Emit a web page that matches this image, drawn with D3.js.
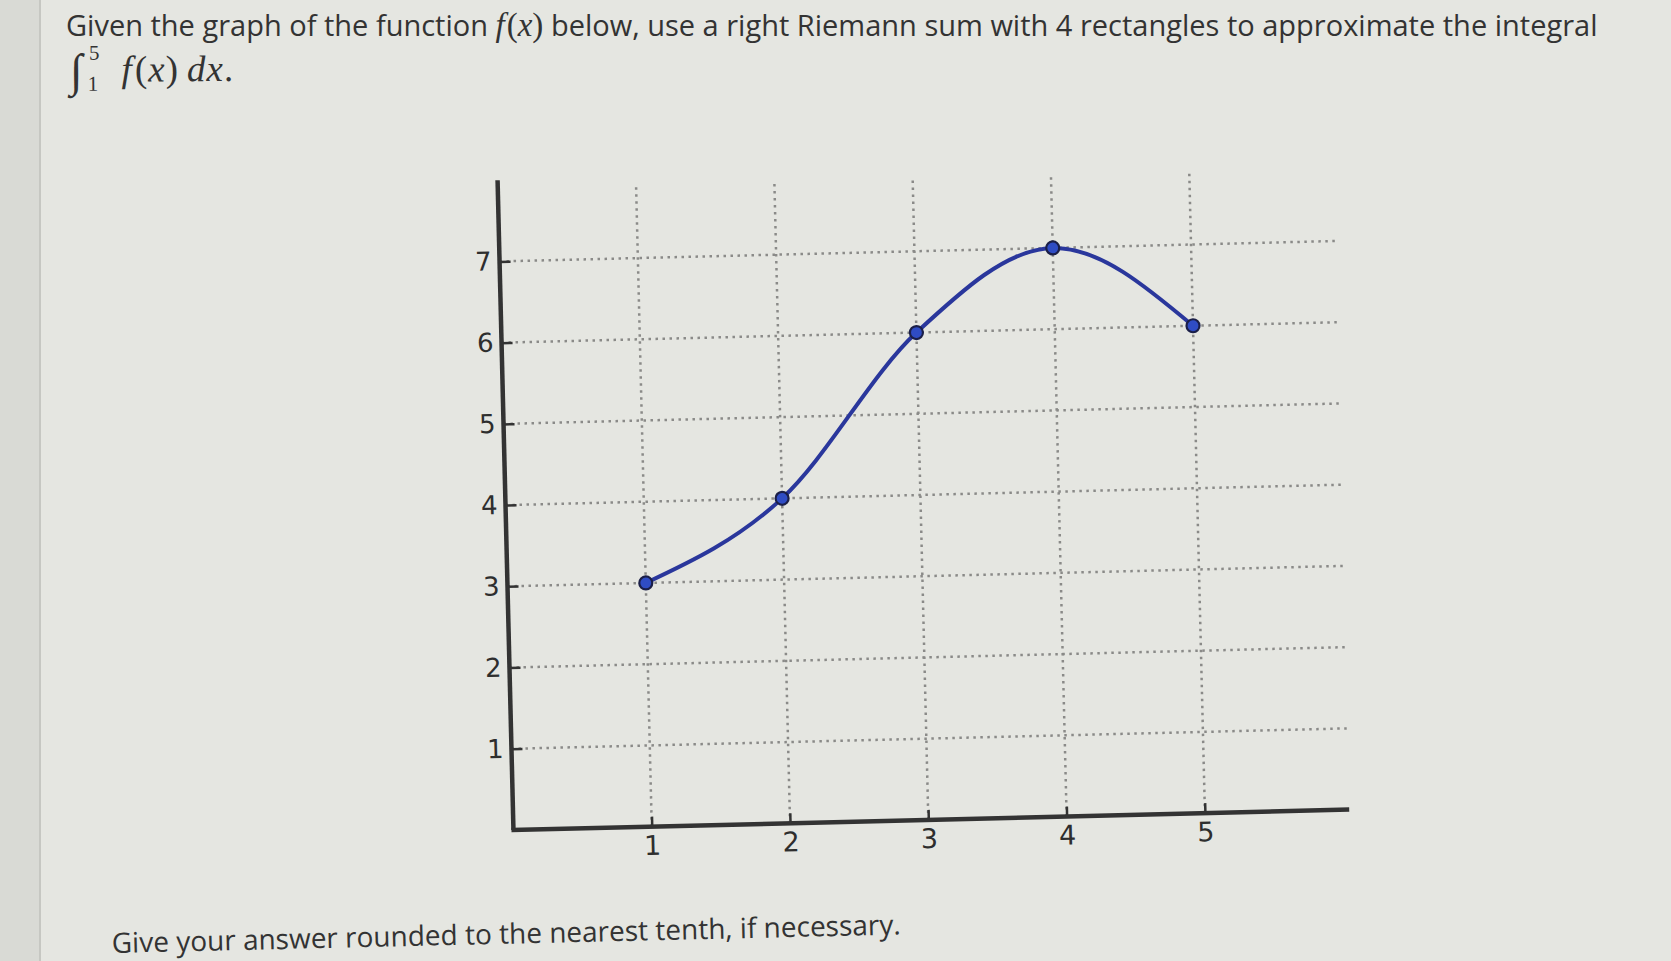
<!DOCTYPE html>
<html>
<head>
<meta charset="utf-8">
<script src="https://cdn.jsdelivr.net/npm/d3@7"></script>
<style>
  html, body { margin: 0; padding: 0; background: #e5e6e1; overflow: hidden; }
  svg { display: block; }
  .tick text { font-family: "DejaVu Sans", sans-serif; fill: #2e2e2e; }
</style>
</head>
<body>
<div id="holder"></div>
<script>
// values
const xVals = [1, 2, 3, 4, 5];
const yVals = [3, 4, 6, 7, 6];
const xTicks = [1, 2, 3, 4, 5];
const yTicks = [1, 2, 3, 4, 5, 6, 7];
const xDomain = [0, 6];
const yDomain = [0, 8];

const w = 1671;
const h = 961;

let svg = d3.select("#holder")
  .append("svg")
  .attr("width", w)
  .attr("height", h);

// page background + left strip of the screen
svg.append("rect").attr("width", w).attr("height", h).attr("fill", "#e5e6e1");
svg.append("rect").attr("width", 40).attr("height", h).attr("fill", "#d9dad5");
svg.append("line").attr("x1", 40).attr("x2", 40).attr("y1", 0).attr("y2", h)
  .attr("stroke", "#c6c7c2").attr("stroke-width", 2);

// question text, line 1
let title = svg.append("text")
  .attr("x", 66)
  .attr("y", 36)
  .style("font-family", "'Open Sans', sans-serif")
  .style("font-size", "29px")
  .style("fill", "#333");
title.append("tspan").text("Given the graph of the function ");
title.append("tspan").style("font-family", "'Liberation Serif', serif").style("font-style", "italic").style("font-size", "33px").text("f");
title.append("tspan").style("font-family", "'Liberation Serif', serif").style("font-size", "33px").attr("dx", 2).text("(");
title.append("tspan").style("font-family", "'Liberation Serif', serif").style("font-style", "italic").style("font-size", "33px").text("x");
title.append("tspan").style("font-family", "'Liberation Serif', serif").style("font-size", "33px").text(")");
title.append("tspan").text(" below, use a right Riemann sum with 4 rectangles to approximate the integral");

// line 2: the integral
let integ = svg.append("text")
  .attr("x", 70)
  .attr("y", 82)
  .attr("transform", "rotate(-0.4, 66, 82)")
  .style("font-family", "'Liberation Serif', serif")
  .style("font-size", "37px")
  .style("fill", "#333");
integ.append("tspan").style("font-size", "46px").attr("dy", 4).text("∫");
integ.append("tspan").style("font-size", "21px").attr("dx", 5).attr("dy", 5).text("1");
integ.append("tspan").style("font-size", "21px").attr("dx", -9).attr("dy", -31).text("5");
integ.append("tspan").style("font-style", "italic").attr("dx", 22).attr("dy", 22).text("f");
integ.append("tspan").attr("dx", 3).text("(");
integ.append("tspan").style("font-style", "italic").attr("dx", 1).text("x");
integ.append("tspan").attr("dx", 1).text(")");
integ.append("tspan").style("font-style", "italic").attr("dx", 9).text("d");
integ.append("tspan").style("font-style", "italic").attr("dx", 1).text("x");
integ.append("tspan").attr("dx", 1).text(".");

// bottom note
svg.append("text")
  .attr("x", 112)
  .attr("y", 953)
  .attr("transform", "rotate(-1.35, 112, 953)")
  .style("font-family", "'Open Sans', sans-serif")
  .style("font-size", "28px")
  .style("fill", "#333")
  .text("Give your answer rounded to the nearest tenth, if necessary.");

// chart (photo is slightly tilted)
let g = svg.append("g").attr("transform", "rotate(-1.4, 920, 520)");

let xScale = d3.scaleLinear().domain(xDomain).range([506, 1336]);
let yScale = d3.scaleLinear().domain(yDomain).range([820, 170]);

// dotted grid
g.append("g")
  .selectAll("line")
  .data(yTicks)
  .enter()
  .append("line")
  .attr("x1", xScale(0))
  .attr("x2", xScale(6) + 6)
  .attr("y1", d => yScale(d))
  .attr("y2", d => yScale(d))
  .attr("stroke", "#8a8a88")
  .attr("stroke-width", 2.5)
  .attr("stroke-dasharray", "2.5,4.5");

g.append("g")
  .selectAll("line")
  .data(xTicks)
  .enter()
  .append("line")
  .attr("x1", d => xScale(d))
  .attr("x2", d => xScale(d))
  .attr("y1", yScale(0))
  .attr("y2", yScale(8) + 6)
  .attr("stroke", "#8a8a88")
  .attr("stroke-width", 2.5)
  .attr("stroke-dasharray", "2.5,4.5");

//Axes
const xAxis = d3.axisBottom(xScale)
  .tickValues(xTicks)
  .tickSize(-10)
  .tickPadding(9)
  .tickFormat(d3.format("d"));
let xg = g.append("g")
  .attr("transform", "translate(0, " + yScale(0) + ")")
  .attr("id", "x-axis")
  .call(xAxis);

const yAxis = d3.axisLeft(yScale)
  .tickValues(yTicks)
  .tickSize(-11)
  .tickPadding(8)
  .tickFormat(d3.format("d"));
let yg = g.append("g")
  .attr("transform", "translate(" + xScale(0) + ",0)")
  .attr("id", "y-axis")
  .call(yAxis);

[xg, yg].forEach(a => {
  a.select(".domain").remove();
  a.selectAll(".tick line").attr("stroke", "#333").attr("stroke-width", 2.5);
});
xg.selectAll(".tick text").style("font-size", "27px");
yg.selectAll(".tick text").style("font-size", "26px");

// axis lines
g.append("line")
  .attr("x1", xScale(0) - 2).attr("x2", xScale(6) + 6)
  .attr("y1", yScale(0)).attr("y2", yScale(0))
  .attr("stroke", "#333").attr("stroke-width", 4.5);
g.append("line")
  .attr("x1", xScale(0)).attr("x2", xScale(0))
  .attr("y1", yScale(0)).attr("y2", yScale(8))
  .attr("stroke", "#333").attr("stroke-width", 4.5);

// curve
let pts = xVals.map((x, i) => ({x: x, y: yVals[i]}));
let valueLine = d3.line()
  .x(d => xScale(d.x))
  .y(d => yScale(d.y))
  .curve(d3.curveMonotoneX);

g.append("path")
  .attr("d", valueLine(pts))
  .attr("fill", "none")
  .attr("stroke", "#2a379c")
  .attr("stroke-width", 4);

g.selectAll("circle")
  .data(pts)
  .enter()
  .append("circle")
  .attr("cx", d => xScale(d.x))
  .attr("cy", d => yScale(d.y))
  .attr("r", 6.5)
  .attr("fill", "#2f4cc4")
  .attr("stroke", "#1b1f48")
  .attr("stroke-width", 2.2);
</script>
</body>
</html>
